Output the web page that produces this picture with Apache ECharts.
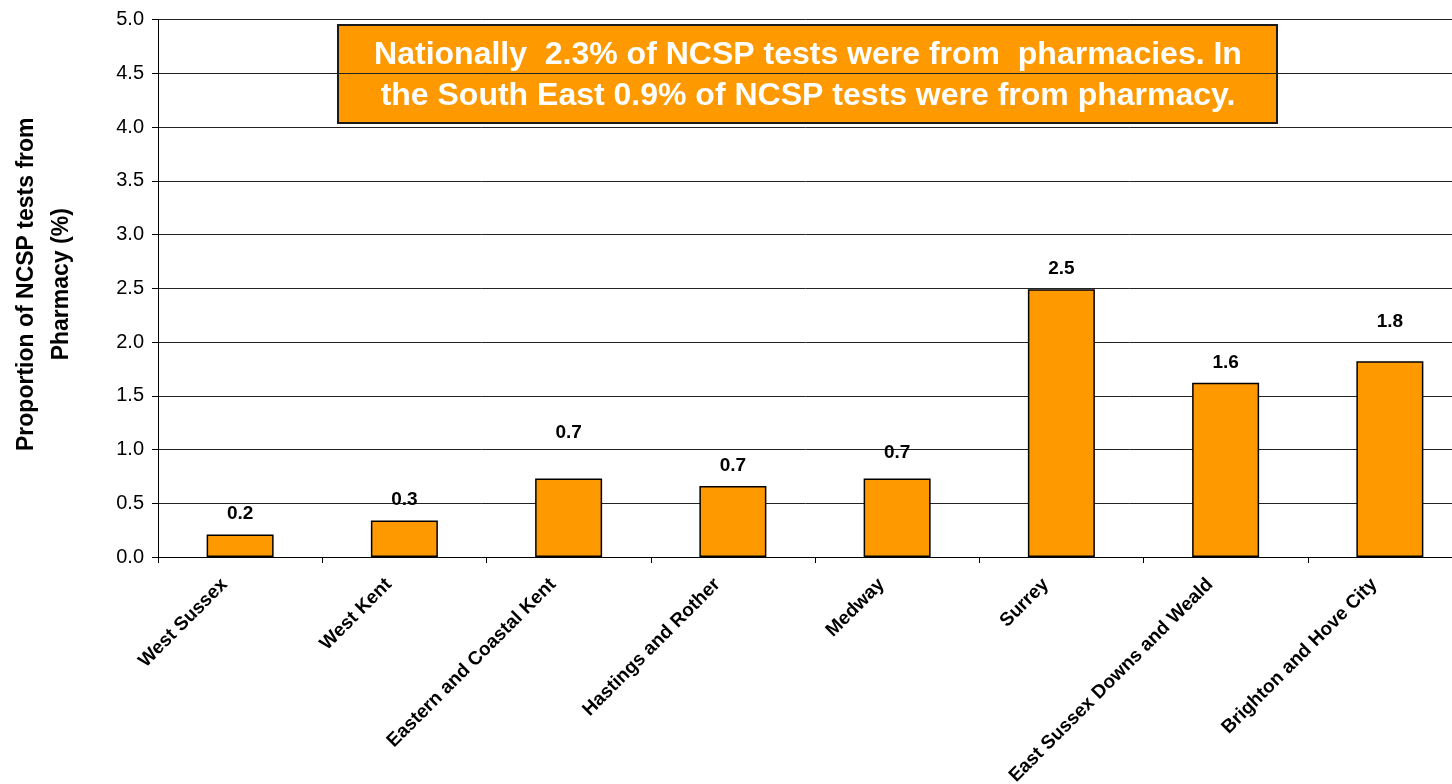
<!DOCTYPE html>
<html>
<head>
<meta charset="utf-8">
<script src="https://cdn.jsdelivr.net/npm/echarts@6/dist/echarts.min.js"></script>
<style>
  html, body { margin: 0; padding: 0; background: #fff; }
  #chart { width: 1452px; height: 784px; }
</style>
</head>
<body>
<div id="chart"></div>
<script>
// PCT names along the x axis
const categories = ['West Sussex', 'West Kent', 'Eastern and Coastal Kent', 'Hastings and Rother',
  'Medway', 'Surrey', 'East Sussex Downs and Weald', 'Brighton and Hove City']
// proportion of NCSP tests from pharmacy (%)
const pharmacyPct = [0.21, 0.34, 0.73, 0.66, 0.73, 2.49, 1.62, 1.82]
// y axis ticks
const yTicks = ['0.0', '0.5', '1.0', '1.5', '2.0', '2.5', '3.0', '3.5', '4.0', '4.5', '5.0']
const noteLines = ['Nationally  2.3% of NCSP tests were from  pharmacies. In',
  'the South East 0.9% of NCSP tests were from pharmacy.']

// labels were dragged upward by hand on a few bars in the original
const labelNudge = [0, 0, -25, 0, -5, 0, 0, -19]

const font = 'Liberation Sans, Arial, sans-serif'
const chart = echarts.init(document.getElementById('chart'))

const option = {
  backgroundColor: '#fff',
  animation: false,
  grid: {
    left: 158,
    right: -20,
    top: 19.5,
    bottom: 227,
    containLabel: false,
    outerBoundsMode: 'none'
  },
  xAxis: {
    type: 'category',
    data: categories,
    axisLine: { lineStyle: { color: '#000', width: 1 } },
    axisTick: { show: true, length: 6, lineStyle: { color: '#000' } },
    axisLabel: {
      rotate: 45,
      interval: 0,
      margin: 9,
      padding: [0, 22, 0, 0],
      color: '#000',
      fontFamily: font,
      fontWeight: 'bold',
      fontSize: 19
    }
  },
  yAxis: {
    type: 'value',
    min: 0,
    max: 5,
    interval: 0.5,
    name: 'Proportion of NCSP tests from\nPharmacy (%)',
    nameLocation: 'middle',
    nameGap: 79,
    nameTextStyle: {
      color: '#000',
      fontFamily: font,
      fontWeight: 'bold',
      fontSize: 23,
      lineHeight: 35,
      padding: [0, 0, 0, 8]
    },
    axisLine: { show: true, lineStyle: { color: '#000', width: 1 } },
    axisTick: { show: true, length: 6, lineStyle: { color: '#000' } },
    axisLabel: {
      margin: 14,
      color: '#000',
      fontFamily: font,
      fontSize: 20,
      formatter: function (v) {
        return yTicks[Math.round(v / 0.5)]
      }
    },
    splitLine: { show: true, lineStyle: { color: '#222', width: 1 } }
  },
  series: [
    {
      name: 'Pharmacy',
      type: 'bar',
      barWidth: 67,
      data: pharmacyPct.map(function (v, i) {
        return {
          value: v,
          label: { offset: [0, labelNudge[i]] }
        }
      }),
      itemStyle: {
        color: '#FF9900',
        borderColor: '#000',
        borderWidth: 1.5
      },
      label: {
        show: true,
        position: 'top',
        distance: 11,
        color: '#000',
        fontFamily: font,
        fontWeight: 'bold',
        fontSize: 19,
        formatter: function (p) {
          return p.value.toFixed(1)
        }
      }
    }
  ],
  graphic: [
    {
      type: 'group',
      left: 337,
      top: 24,
      children: [
        {
          type: 'rect',
          shape: { x: 0, y: 0, width: 939, height: 98 },
          style: { fill: '#FF9900', stroke: '#1a1a1a', lineWidth: 2 }
        },
        {
          type: 'text',
          x: 470,
          y: 51,
          style: {
            text: noteLines.join('\n'),
            fill: '#fff',
            font: 'bold 32px ' + font,
            lineHeight: 41,
            align: 'center',
            verticalAlign: 'middle'
          }
        }
      ]
    }
  ]
}

chart.setOption(option)
</script>
</body>
</html>
